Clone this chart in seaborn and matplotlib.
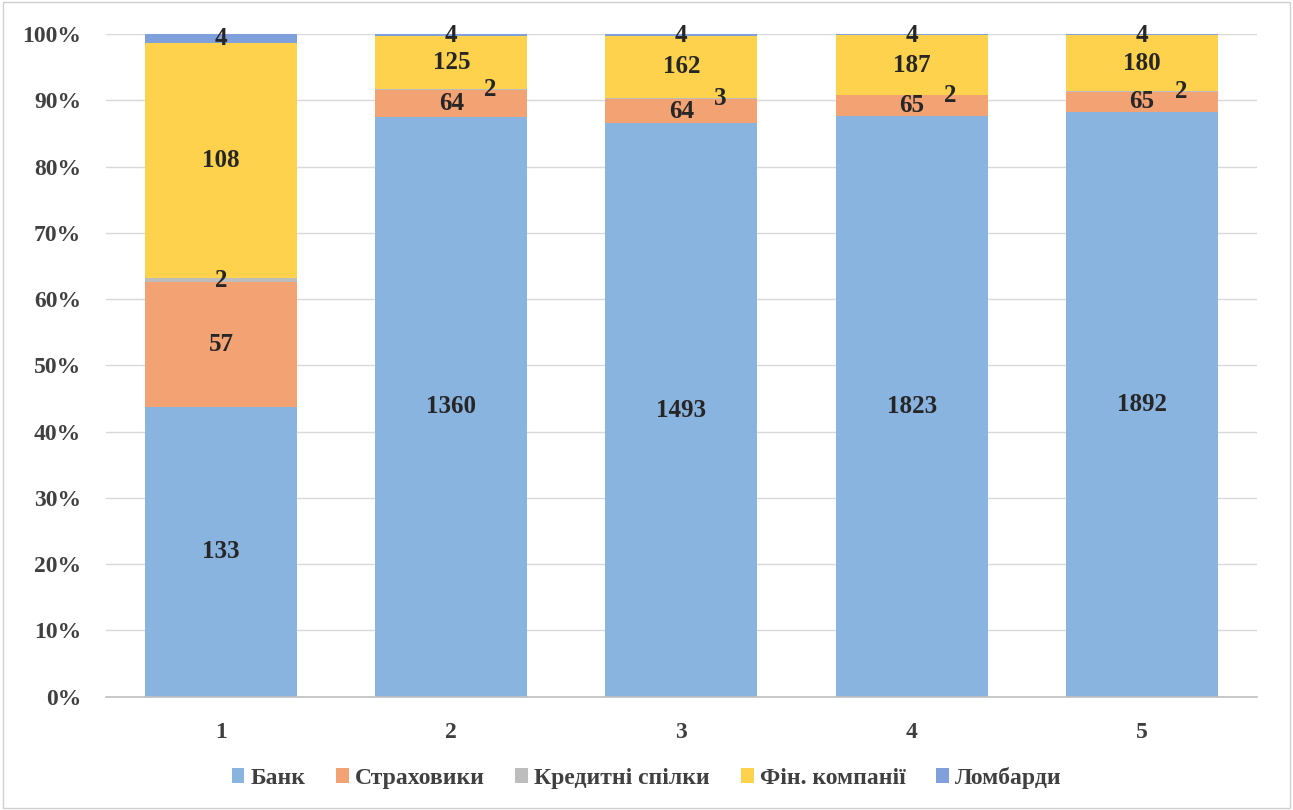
import matplotlib
matplotlib.use("Agg")
import matplotlib.pyplot as plt
import seaborn as sns
import numpy as np
import pandas as pd
from matplotlib.patches import Rectangle

sns.set(style="whitegrid")
plt.rcParams['font.family'] = ['Liberation Serif', 'DejaVu Serif']
plt.rcParams['font.weight'] = 'bold'

# Дані
categories = ["1", "2", "3", "4", "5"]
series = ["Банк", "Страховики", "Кредитні спілки", "Фін. компанії", "Ломбарди"]
bank = [133, 1360, 1493, 1823, 1892]
insurers = [57, 64, 64, 65, 65]
credit_unions = [2, 2, 3, 2, 2]
fin_companies = [108, 125, 162, 187, 180]
pawnshops = [4, 4, 4, 4, 4]
colors = ["#8AB4E0", "#F2A273", "#BDBDBD", "#FED24C", "#7FA0DA"]

df = pd.DataFrame({
    "Банк": bank,
    "Страховики": insurers,
    "Кредитні спілки": credit_unions,
    "Фін. компанії": fin_companies,
    "Ломбарди": pawnshops,
}, index=categories)
shares = df.div(df.sum(axis=1), axis=0)

fig = plt.figure(figsize=(12.93, 8.10), dpi=100)
ax = fig.add_axes([0.082, 0.14, 0.89, 0.818])

x = np.arange(len(categories))
bottom = np.zeros(len(categories))
label_color = "#262626"
for name, color in zip(series, colors):
    vals = shares[name].values
    ax.bar(x, vals, bottom=bottom, width=0.66, color=color, label=name,
           linewidth=0, zorder=2)
    for i in range(len(categories)):
        cy = bottom[i] + vals[i] / 2
        cx = x[i]
        if name == "Кредитні спілки" and vals[i] < 0.005:
            # маленький сегмент - підпис зміщено вправо
            cx = x[i] + 0.17
            cy = bottom[i] + vals[i] - 0.001
        elif name == "Ломбарди" and vals[i] < 0.01:
            cy = 0.998
        ax.text(cx, cy, str(df[name].iloc[i]), ha="center", va="center",
                fontsize=18, fontweight="bold", color=label_color, zorder=3)
    bottom += vals

ax.set_xlim(-0.5, len(categories) - 0.5)
ax.set_ylim(0, 1)
ax.set_xticks(x)
ax.set_xticklabels(categories)
ax.set_yticks(np.arange(0, 1.01, 0.1))
ax.set_yticklabels([f"{int(round(v * 100))}%" for v in np.arange(0, 1.01, 0.1)])
ax.tick_params(axis="y", labelsize=17, labelcolor="#404040", length=0, pad=18)
ax.tick_params(axis="x", labelsize=17, labelcolor="#404040", length=0, pad=18)
for lab in ax.get_xticklabels() + ax.get_yticklabels():
    lab.set_fontweight("bold")
ax.yaxis.grid(True, color="#D9D9D9", linewidth=1, zorder=0)
ax.xaxis.grid(False)
ax.set_facecolor("white")
for side in ["left", "right", "top"]:
    ax.spines[side].set_visible(False)
ax.spines["bottom"].set_color("#BFBFBF")
ax.spines["bottom"].set_linewidth(1.2)

leg = fig.legend(loc="lower center", bbox_to_anchor=(0.5, 0.0), ncol=5, frameon=False,
                 fontsize=17, handlelength=0.55, handleheight=0.6, handletextpad=0.25,
                 columnspacing=1.3)
for t in leg.get_texts():
    t.set_color("#404040")
    t.set_fontweight("bold")

fig.patches.append(Rectangle((0.002, 0.002), 0.996, 0.996, transform=fig.transFigure,
                             fill=False, edgecolor="#D0D0D0", linewidth=1))

fig.savefig("out.png", dpi=100, facecolor="white")
